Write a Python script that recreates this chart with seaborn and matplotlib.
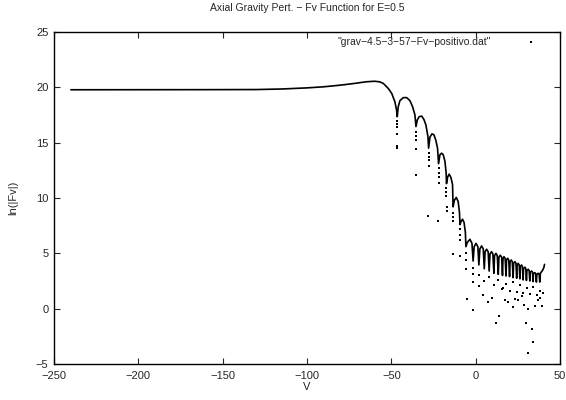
import numpy as np
import pandas as pd
import seaborn as sns
import matplotlib.pyplot as plt

## Data
# main curve (plateau, hump and the oscillating arches with their dips)
v_curve = [-240, -200, -160, -130, -115, -100, -90, -80, -72, -65, -60, -57,
           -54.8, -51.8, -49.8, -47.9, -46.9, -46.5,
           -45.9, -44.9, -42.9, -40.9, -39.0, -37.4, -36.0, -35.4,
           -34.6, -33.5, -32.0, -30.7, -29.5, -28.3, -27.9,
           -27.1, -25.9, -24.7, -23.6, -22.6, -22.0,
           -21.2, -20.2, -19.2, -18.2, -17.5, -17.3,
           -16.6, -15.7, -14.7, -13.7, -13.4,
           -12.6, -11.5, -10.4, -9.6, -9.3,
           -8.6, -7.8, -6.9, -6.1, -5.8,
           -4.9, -3.4, -2.2, -1.5,
           -0.9, 0.2, 1.3, 1.9,
           2.5, 3.5, 4.5, 5.1,
           5.6, 6.5, 7.4, 8.0,
           8.5, 9.4, 10.2, 10.8,
           11.2, 12.0, 12.8, 13.4,
           13.8, 14.6, 15.4, 15.9,
           16.2, 16.8, 17.5, 18.0,
           18.3, 18.9, 19.6, 20.1,
           20.4, 21.1, 21.7, 22.2,
           22.5, 23.3, 23.9, 24.3,
           24.6, 25.2, 25.8, 26.2,
           26.5, 27.2, 27.7, 28.1,
           28.4, 29.2, 29.7, 30.1,
           30.4, 31.2, 31.7, 32.1,
           32.4, 33.2, 33.7, 34.0,
           34.3, 35.1, 35.6, 36.0,
           36.3, 37.1, 37.6, 38.0,
           38.4, 39.1, 39.8, 40.5, 40.8]
f_curve = [19.78, 19.78, 19.79, 19.8, 19.85, 19.95, 20.05, 20.2, 20.35, 20.5, 20.55, 20.5,
           20.36, 19.9, 19.46, 18.7, 17.95, 17.35,
           18.25, 18.8, 19.07, 19.07, 18.8, 18.25, 17.5, 16.45,
           17.05, 17.35, 17.4, 17.1, 16.6, 15.55, 14.5,
           15.5, 15.8, 15.7, 15.2, 14.5, 13.1,
           13.9, 14.05, 13.9, 13.3, 12.25, 11.3,
           11.9, 12.15, 11.87, 11.2, 9.2,
           9.8, 10.05, 9.7, 8.7, 7.6,
           7.9, 8.08, 7.8, 6.9, 5.6,
           6.0, 6.27, 5.9, 4.3,
           5.6, 5.9, 5.6, 3.95,
           5.4, 5.67, 5.4, 3.6,
           5.15, 5.37, 5.15, 3.4,
           4.95, 5.15, 4.95, 3.2,
           4.8, 5.0, 4.8, 3.1,
           4.65, 4.83, 4.65, 3.0,
           4.5, 4.7, 4.52, 2.95,
           4.4, 4.56, 4.4, 2.9,
           4.25, 4.4, 4.25, 2.8,
           4.1, 4.25, 4.1, 2.75,
           3.95, 4.1, 3.95, 2.7,
           3.8, 3.95, 3.8, 2.6,
           3.62, 3.75, 3.62, 2.55,
           3.45, 3.56, 3.45, 2.5,
           3.3, 3.4, 3.3, 2.45,
           3.16, 3.26, 3.16, 2.4,
           3.1, 3.2, 3.12, 2.4,
           3.2, 3.35, 3.5, 3.75, 4.0]

# isolated points below the dips
v_dots = [-46.6, -46.6, -46.6, -46.6, -46.6, -46.5,
          -35.4, -35.4, -35.4, -35.4, -35.4,
          -27.9, -27.9, -27.9, -27.9, -28.1,
          -22.0, -22.0, -22.0, -22.0, -22.2,
          -17.3, -17.3, -17.3, -17.2, -17.2,
          -13.4, -13.4, -13.3, -13.3,
          -9.3, -9.3, -9.3, -9.3,
          -5.6, -5.6, -5.5, -5.4,
          -1.5, -1.5, -1.5, -1.45,
          1.9, 4.5, 7.4, 9.4, 11.8, 13.8, 15.4, 17.3, 19.3, 21.9, 23.3, 25.2,
          27.2, 28.6, 29.8, 30.8, 31.1, 33.2, 34.1, 35.1, 37.1, 38.1, 39.1,
          2.0, 5.1, 8.0, 10.9, 13.4, 16.0, 18.1, 20.2, 22.3, 24.4, 26.3,
          28.2, 30.2, 32.1, 34.1, 36.1, 38.0, 40.2]
f_dots = [17.0, 16.7, 16.4, 15.8, 14.7, 14.5,
          16.0, 15.6, 15.2, 14.4, 12.1,
          14.1, 13.7, 13.4, 12.9, 8.4,
          12.7, 12.3, 11.9, 11.4, 7.95,
          10.9, 10.5, 10.2, 9.2, 8.85,
          8.6, 8.3, 7.9, 4.95,
          7.2, 6.7, 6.2, 4.8,
          5.0, 4.4, 3.6, 0.85,
          3.7, 3.1, 2.4, -0.1,
          2.05, 1.24, 0.64, 0.94, -1.3, -0.7, 1.76, 0.8, 0.64, 0.13, 0.9, 0.8,
          1.1, 0.34, -1.3, -4.0, -0.05, -1.8, -3.0, 0.2, 0.8, 0.94, 0.2,
          3.0, 2.5, 2.9, 2.1, 2.6, 1.9, 2.2, 1.6, 2.4, 1.5, 2.1,
          1.4, 1.9, 1.3, 2.0, 1.2, 1.6, 1.4]

x_ticks = [-250, -200, -150, -100, -50, 0, 50]
y_ticks = [-5, 0, 5, 10, 15, 20, 25]
label = '"grav\u22124.5\u22123\u221257\u2212Fv\u2212positivo.dat"'

## Figure
sns.set_style("ticks")
plt.rcParams['font.family'] = ['Liberation Sans', 'DejaVu Sans']

fig = plt.figure(figsize=(5.66, 4.0), dpi=100)
ax = fig.add_axes([0.0954, 0.09, 0.894, 0.83])

sns.lineplot(x=v_curve, y=f_curve, sort=False, estimator=None, color='black',
             linewidth=1.2, ax=ax)
sns.scatterplot(x=v_dots, y=f_dots, s=2.5, color='black', marker='s',
                linewidth=0, ax=ax, label=label)

ax.set_xlim(-250, 50)
ax.set_ylim(-5, 25)
ax.set_xticks(x_ticks)
ax.set_yticks(y_ticks)
ax.tick_params(direction='in', top=True, right=True, length=4, width=0.8,
               labelsize=8)
ax.tick_params(axis='x', pad=5)
ax.tick_params(axis='y', pad=4)
for sp in ax.spines.values():
    sp.set_linewidth(1.0)
    sp.set_color('black')

ax.set_title('Axial Gravity Pert. \u2212 Fv Function for E=0.5', fontsize=7.5, pad=15)
ax.set_xlabel('V', fontsize=8, labelpad=1)
ax.set_ylabel('ln(|Fv|)', fontsize=8, labelpad=13)

leg = ax.legend(loc='upper right', bbox_to_anchor=(0.9526, 0.985), frameon=False,
                markerfirst=False, fontsize=7.5, handlelength=1.0,
                handletextpad=3.3, borderaxespad=0, borderpad=0)

fig.savefig('out.png', dpi=100)
